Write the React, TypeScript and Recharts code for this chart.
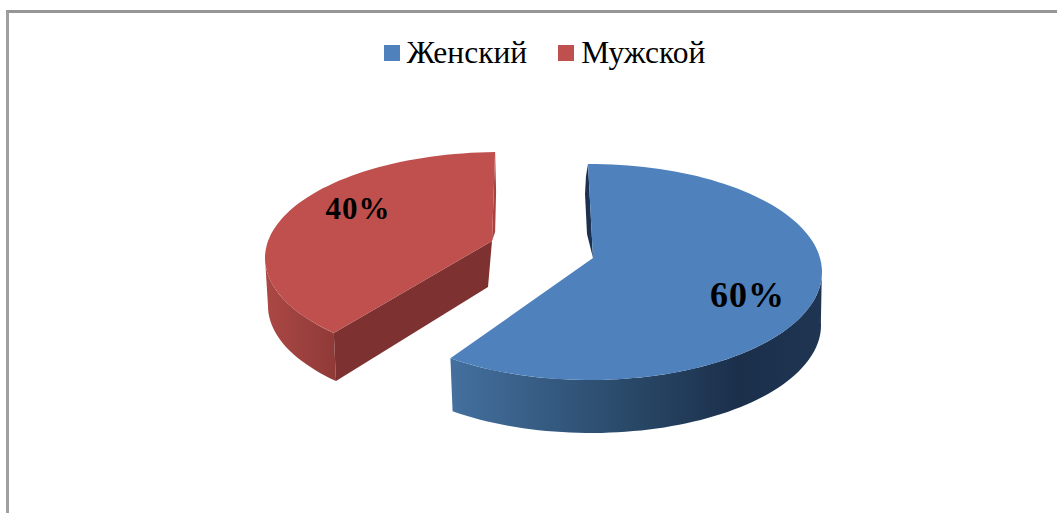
import { PieChart, Pie, Legend } from 'recharts'

const categories = ['Женский', 'Мужской']
const shares = [60, 40]
const colors = ['#4f81bd', '#c0504d']

const rows = categories.map((name, i) => ({ name, value: shares[i], fill: colors[i] }))

// 3D look of each slice, all relative to the pie centre that Recharts hands over
const looks = [
  {
    dx: 45, dy: 10, rx: 232, ry: 108, nudge: [0.5, -1], apex: [3, -14], frontIsStart: false,
    baseDx: 1, baseDy: 53, baseRx: 230, baseRy: 108, wallEnd: 2,
    rim: [[-2, 12], [-3, 30], [-1, 70]], rimColor: '#1c3150',
    wallStops: [['0%', '#44709f'], ['50%', '#284766'], ['78%', '#1b2f4b'], ['100%', '#1f3552']],
    innerDrop: null as null | number[],
    labelFrac: 0.7, labelNudge: [3, 0], labelSize: 36,
  },
  {
    dx: -45, dy: -4, rx: 235, ry: 106, nudge: [-9, 1.2], apex: [-8, -17], frontIsStart: true,
    baseDx: 0, baseDy: 48, baseRx: 232, baseRy: 106, wallEnd: -180,
    rim: [[1, 40], [0, 80]], rimColor: '#a8423f',
    wallStops: [['0%', '#ab4845'], ['100%', '#8f3a38']],
    innerDrop: [-4, 46],
    labelFrac: 0.635, labelNudge: [0, -29], labelSize: 31,
  },
]

const toPoint = (x: number, y: number, rx: number, ry: number, deg: number) => {
  const a = (deg * Math.PI) / 180
  return [x + rx * Math.cos(a), y - ry * Math.sin(a)]
}

const sweep = (x: number, y: number, rx: number, ry: number, from: number, to: number) => {
  const n = Math.max(2, Math.ceil(Math.abs(to - from) / 2))
  const pts: number[][] = []
  for (let i = 0; i <= n; i++) pts.push(toPoint(x, y, rx, ry, from + ((to - from) * i) / n))
  return pts
}

const toPath = (pts: number[][]) =>
  'M' + pts.map(p => `${p[0].toFixed(1)},${p[1].toFixed(1)}`).join('L') + 'Z'

function Slice(props: any) {
  const { cx, cy, startAngle, endAngle, fill } = props
  const i = categories.indexOf(props.payload?.name ?? props.name)
  const look = looks[i]
  const x = cx + look.dx
  const y = cy + look.dy
  const from = startAngle + look.nudge[0]
  const to = endAngle + look.nudge[1]
  const bx = x + look.baseDx
  const by = y + look.baseDy
  const apex = [x + look.apex[0], y + look.apex[1]]
  const arc = sweep(x, y, look.rx, look.ry, from, to)
  // front = the lower left corner of the slice, back = its upper corner
  const front = look.frontIsStart ? from : to
  const back = look.frontIsStart ? to : from
  const backPt = toPoint(x, y, look.rx, look.ry, back)
  const frontPt = toPoint(x, y, look.rx, look.ry, front)

  const wall = [
    ...sweep(x, y, look.rx, look.ry, front, look.wallEnd),
    ...sweep(bx, by, look.baseRx, look.baseRy, look.wallEnd, front),
  ]
  const rim = [backPt, ...look.rim.map(r => [backPt[0] + r[0], backPt[1] + r[1]]), apex]
  const gradId = `wall-${i}`

  return (
    <g>
      <defs>
        <linearGradient id={gradId} x1="0" y1="0" x2="1" y2="0">
          {look.wallStops.map(s => (
            <stop key={s[0]} offset={s[0]} stopColor={s[1]} />
          ))}
        </linearGradient>
      </defs>
      <path d={toPath(wall)} fill={`url(#${gradId})`} />
      {look.innerDrop && (
        <path
          d={toPath([
            apex,
            frontPt,
            toPoint(bx, by, look.baseRx, look.baseRy, front),
            [apex[0] + look.innerDrop[0], apex[1] + look.innerDrop[1]],
          ])}
          fill="#7d3231"
        />
      )}
      <path d={toPath(rim)} fill={look.rimColor} />
      <path d={toPath([...arc, apex])} fill={fill} />
    </g>
  )
}

function SliceLabel(props: any) {
  const { cx, cy, midAngle, value, name } = props
  const look = looks[categories.indexOf(name)]
  const p = toPoint(
    cx + look.dx,
    cy + look.dy,
    look.rx * look.labelFrac,
    look.ry * look.labelFrac,
    midAngle,
  )
  return (
    <text
      x={p[0] + look.labelNudge[0]}
      y={p[1] + look.labelNudge[1]}
      textAnchor="middle"
      dominantBaseline="central"
      fontFamily="'Liberation Serif', serif"
      fontWeight="bold"
      fontSize={look.labelSize}
      letterSpacing={1}
      fill="#000"
    >
      {value}%
    </text>
  )
}

function LegendRow({ payload }: any) {
  return (
    <div style={{ display: 'flex', justifyContent: 'center', gap: 31, paddingLeft: 32 }}>
      {(payload || []).map((entry: any) => (
        <div key={entry.value} style={{ display: 'flex', alignItems: 'center', gap: 7 }}>
          <span style={{ width: 16, height: 16, background: entry.color, display: 'block' }} />
          <span style={{ fontFamily: "'Liberation Serif', serif", fontSize: 31.5, color: '#000', lineHeight: '34px' }}>
            {entry.value}
          </span>
        </div>
      ))}
    </div>
  )
}

export default function App() {
  return (
    <div style={{ position: 'absolute', left: 0, top: 0, width: 1057, height: 513, overflow: 'hidden', background: '#fff' }}>
      <div style={{ position: 'absolute', left: 6, top: 10, right: -10, bottom: -10, borderTop: '3px solid #969696', borderLeft: '3px solid #a0a0a0' }} />
      <PieChart width={1057} height={513} style={{ position: 'absolute', left: 0, top: 0 }}>
        <Legend verticalAlign="top" content={<LegendRow />} wrapperStyle={{ top: 36, left: 0, width: 1057 }} />
        <Pie
          data={rows}
          dataKey="value"
          nameKey="name"
          cx={540}
          cy={223}
          outerRadius={232}
          startAngle={90}
          endAngle={-270}
          stroke="none"
          shape={Slice}
          label={SliceLabel}
          labelLine={false}
          isAnimationActive={false}
        />
      </PieChart>
    </div>
  )
}
